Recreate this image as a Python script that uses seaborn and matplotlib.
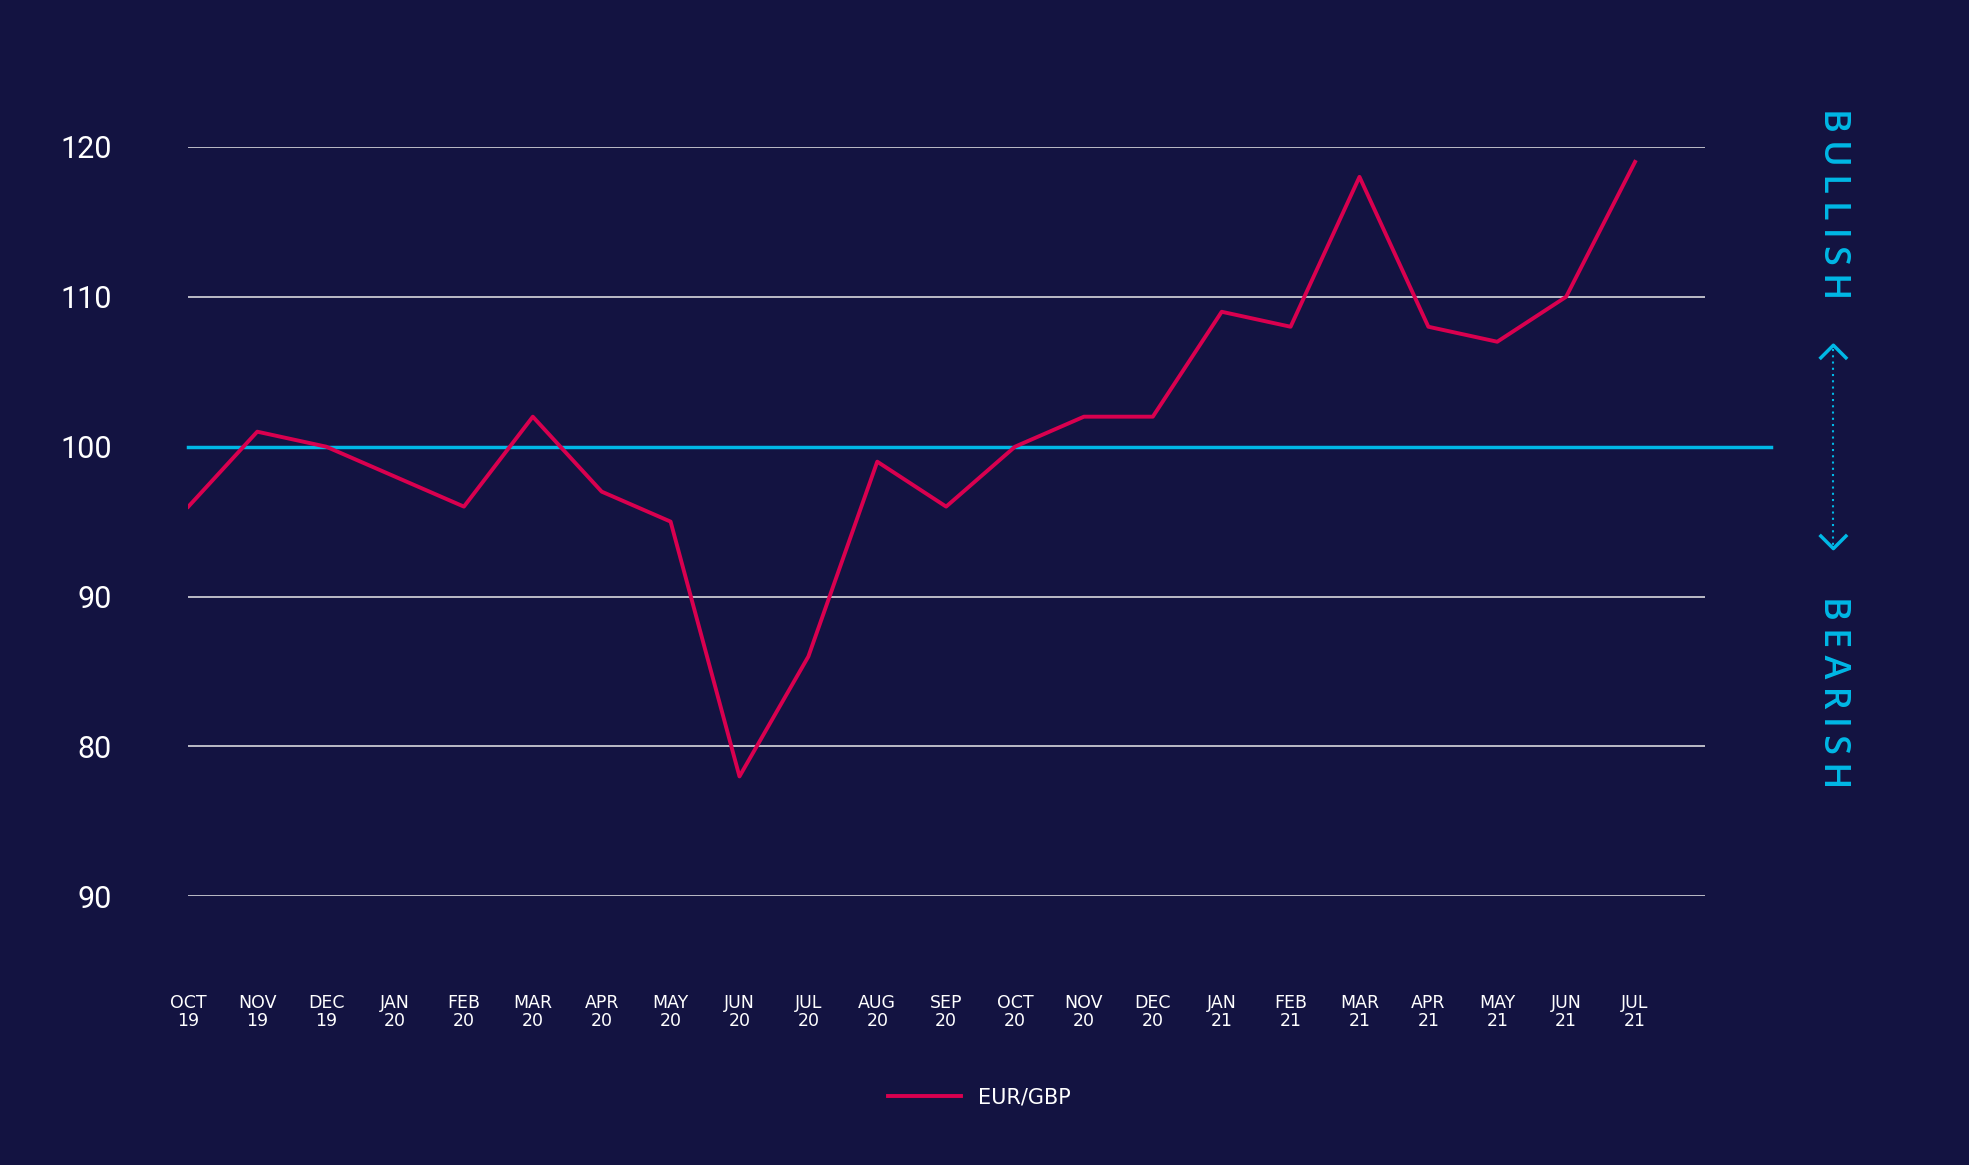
import matplotlib
matplotlib.use("Agg")
import matplotlib.pyplot as plt
import seaborn as sns
import pandas as pd
from matplotlib.lines import Line2D

months = ["OCT\n19","NOV\n19","DEC\n19","JAN\n20","FEB\n20","MAR\n20","APR\n20","MAY\n20","JUN\n20","JUL\n20","AUG\n20","SEP\n20","OCT\n20","NOV\n20","DEC\n20","JAN\n21","FEB\n21","MAR\n21","APR\n21","MAY\n21","JUN\n21","JUL\n21"]
eur_gbp = [96,101,100,98,96,102,97,95,78,86,99,96,100,102,102,109,108,118,108,107,110,119]
y_ticks = [70,80,90,100,110,120]
y_labels = ["90","80","90","100","110","120"]

BG = "#131341"
RED = "#d9004f"
CYAN = "#00b8e6"
W, H = 1568, 928

df = pd.DataFrame({"i": range(len(months)), "v": eur_gbp})
fig = plt.figure(figsize=(19.69, 11.65), dpi=100, facecolor=BG)
ax = fig.add_axes([150/W, 1-714/H, (1358-150)/W, (714-117)/H])
ax.set_facecolor(BG)
for y in y_ticks:
    if y != 100:
        ax.axhline(y, color="#c8c8d0", lw=1.3, zorder=1)
ax.plot([0, 22.97], [100, 100], color=CYAN, lw=2.5, clip_on=False, zorder=2)
sns.lineplot(data=df, x="i", y="v", ax=ax, color=RED, lw=2.8, label="EUR/GBP", zorder=3)
ax.set_xlim(0, 22.02)
ax.set_ylim(70, 120)
for s in ax.spines.values():
    s.set_visible(False)
ax.set_xticks(range(len(months)))
ax.set_xticklabels(months, color="white", fontsize=12.5, linespacing=1.0)
ax.set_yticks(y_ticks)
ax.set_yticklabels(y_labels, color="white", fontsize=22, fontfamily="Roboto", fontstretch="condensed")
ax.tick_params(length=0)
ax.tick_params(axis="x", pad=70)
ax.tick_params(axis="y", pad=55)
ax.set_xlabel(""); ax.set_ylabel("")
leg = ax.legend(loc="center", bbox_to_anchor=((780-150)/(1358-150), 1-(874-117)/(714-117)),
                frameon=False, fontsize=15, handlelength=3.5, labelcolor="white")

ts = "\u2009"
fig.text(1460/W, 1-162/H, ts.join("BULLISH"), rotation=-90, color=CYAN, fontsize=26, fontweight="semibold",
         ha="center", va="center", fontfamily="Open Sans")
fig.text(1460/W, 1-551/H, ts.join("BEARISH"), rotation=-90, color=CYAN, fontsize=26, fontweight="semibold",
         ha="center", va="center", fontfamily="Open Sans")
def fl(xs, ys, **kw):
    fig.add_artist(Line2D([x/W for x in xs], [1-y/H for y in ys], transform=fig.transFigure, color=CYAN, **kw))
fl([1460,1460],[278,434], lw=1.5, ls=(0,(1,2)))
fl([1450,1460,1470],[285,275,285], lw=2.5)
fl([1450,1460,1470],[427,437,427], lw=2.5)

fig.savefig("out.png", dpi=100, facecolor=BG)
